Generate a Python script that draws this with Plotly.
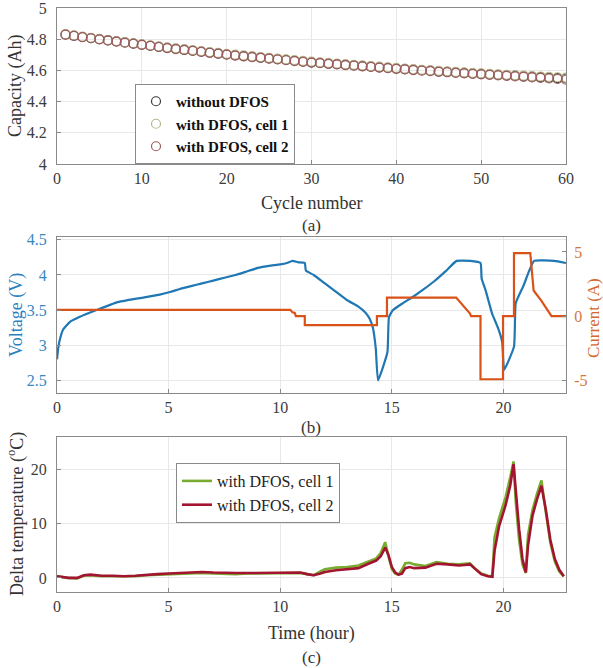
import plotly.graph_objects as go

# ---------------- data ----------------
cycles = list(range(1, 61))
cap_without = [4.830, 4.822, 4.814, 4.807, 4.800, 4.793, 4.786, 4.779, 4.772, 4.765,
               4.758, 4.751, 4.745, 4.738, 4.732, 4.726, 4.720, 4.714, 4.708, 4.702,
               4.697, 4.692, 4.687, 4.682, 4.677, 4.672, 4.667, 4.662, 4.657, 4.652,
               4.648, 4.644, 4.640, 4.636, 4.632, 4.628, 4.624, 4.620, 4.616, 4.612,
               4.608, 4.605, 4.601, 4.598, 4.594, 4.591, 4.587, 4.584, 4.581, 4.578,
               4.575, 4.572, 4.569, 4.566, 4.563, 4.560, 4.557, 4.554, 4.551, 4.548]
cap_cell1 = [4.832, 4.824, 4.816, 4.809, 4.802, 4.795, 4.788, 4.781, 4.774, 4.767,
             4.760, 4.754, 4.748, 4.742, 4.736, 4.730, 4.724, 4.718, 4.712, 4.706,
             4.701, 4.696, 4.691, 4.686, 4.681, 4.676, 4.671, 4.666, 4.661, 4.656,
             4.652, 4.648, 4.644, 4.640, 4.636, 4.632, 4.628, 4.624, 4.620, 4.616,
             4.612, 4.608, 4.604, 4.601, 4.597, 4.594, 4.590, 4.587, 4.584, 4.581,
             4.578, 4.575, 4.572, 4.569, 4.566, 4.563, 4.561, 4.558, 4.556, 4.554]
cap_cell2 = [4.829, 4.821, 4.813, 4.806, 4.799, 4.792, 4.785, 4.778, 4.771, 4.764,
             4.757, 4.750, 4.743, 4.737, 4.731, 4.725, 4.719, 4.713, 4.707, 4.701,
             4.695, 4.690, 4.685, 4.680, 4.675, 4.670, 4.665, 4.660, 4.655, 4.650,
             4.646, 4.642, 4.638, 4.634, 4.630, 4.626, 4.622, 4.618, 4.614, 4.610,
             4.606, 4.602, 4.598, 4.595, 4.591, 4.588, 4.584, 4.581, 4.577, 4.574,
             4.571, 4.568, 4.565, 4.561, 4.558, 4.555, 4.552, 4.548, 4.545, 4.540]

t_voltage = [0, 0.05, 0.12, 0.27, 0.57, 1.0, 1.77, 2.68, 3.7, 4.6, 5.1, 5.5, 6.0, 6.5,
             7.0, 7.5, 8.0, 8.5, 9.0, 9.5, 10.0, 10.3, 10.55, 10.8, 11.1, 11.15, 11.5,
             12.0, 12.5, 13.0, 13.5, 13.8, 14.0, 14.15, 14.28, 14.38, 14.8, 14.87,
             15.05, 15.5, 15.95, 16.4, 16.9, 17.4, 17.9, 18.5, 18.97, 19.02, 19.2,
             19.49, 19.75, 19.94, 20.03, 20.47, 20.55, 20.9, 21.14, 21.37, 22.27, 22.8]
voltage = [2.80, 2.95, 3.07, 3.22, 3.33, 3.40, 3.50, 3.61, 3.67, 3.72, 3.76, 3.80, 3.84,
           3.88, 3.92, 3.96, 4.00, 4.05, 4.10, 4.13, 4.15, 4.17, 4.20, 4.18, 4.17, 4.06,
           4.00, 3.88, 3.76, 3.64, 3.55, 3.47, 3.38, 3.25, 2.95, 2.50, 2.90, 3.40,
           3.50, 3.60, 3.69, 3.79, 3.91, 4.05, 4.20, 4.20, 4.17, 3.95, 3.78,
           3.45, 3.25, 3.05, 2.65, 2.98, 3.60, 3.85, 4.05, 4.20, 4.20, 4.17]

t_current = [0, 10.45, 10.55, 10.65, 10.7, 11.1, 11.1, 14.33, 14.33, 14.78, 14.78, 17.88,
             18.5, 18.55, 18.97, 18.97, 19.98, 19.98, 20.47, 20.47, 21.2, 21.35, 21.7,
             22.15, 22.8]
current = [0.5, 0.5, 0.3, 0.25, 0, 0, -0.7, -0.7, 0, 0, 1.45, 1.45,
           0.2, 0, 0, -4.9, -4.9, 0, 0, 4.9, 4.9, 2.0, 1.2,
           0, 0]

t_temp = [0, 0.5, 0.9, 1.2, 1.5, 2.0, 2.5, 3.0, 3.5, 4.0, 4.5, 5.0, 5.5, 6.0, 6.5, 7.0,
          7.5, 8.0, 8.5, 9.0, 9.5, 10.0, 10.5, 10.9, 11.2, 11.5, 11.8, 12.0, 12.5, 13.0,
          13.5, 14.0, 14.3, 14.5, 14.7, 14.85, 15.0, 15.15, 15.3, 15.45, 15.6, 15.8,
          16.0, 16.5, 17.0, 17.5, 18.0, 18.5, 18.7, 19.0, 19.3, 19.5, 19.6, 19.8, 20.1,
          20.3, 20.45, 20.55, 20.7, 20.85, 21.0, 21.1, 21.3, 21.5, 21.7, 21.9, 22.1,
          22.3, 22.5, 22.7]
temp_cell1 = [0.3, 0.0, -0.1, 0.4, 0.5, 0.3, 0.3, 0.3, 0.3, 0.5, 0.6, 0.7, 0.8, 0.9, 0.9,
              0.8, 0.7, 0.7, 0.8, 0.8, 0.8, 0.9, 0.9, 0.9, 0.7, 0.5, 1.2, 1.6, 1.9, 2.0,
              2.3, 3.2, 3.6, 4.6, 6.6, 4.0, 1.6, 0.8, 0.6, 1.5, 2.7, 2.8,
              2.5, 2.2, 2.9, 2.6, 2.5, 2.7, 1.8, 0.8, 0.4, 0.3, 7.5, 11.0, 15.0,
              18.5, 21.5, 14.0, 7.0, 2.5, 0.9, 8.0, 12.5, 15.5, 18.0, 12.0, 6.5,
              3.0, 1.2, 0.3]
temp_cell2 = [0.3, 0.0, 0.0, 0.5, 0.6, 0.4, 0.4, 0.3, 0.4, 0.6, 0.7, 0.8, 0.9, 1.1, 1.1,
              1.0, 0.9, 0.9, 0.9, 0.9, 1.0, 1.0, 1.0, 1.0, 0.7, 0.5, 0.8, 1.1, 1.4, 1.6,
              1.8, 2.7, 3.2, 4.0, 5.6, 4.2, 2.0, 1.0, 0.6, 0.8, 1.8, 2.0,
              1.8, 1.9, 2.6, 2.5, 2.3, 2.5, 1.8, 0.7, 0.3, 0.2, 5.0, 9.5, 13.5,
              17.0, 21.0, 16.0, 9.0, 3.5, 1.0, 6.0, 11.5, 14.5, 17.0, 12.5, 7.0,
              3.5, 1.5, 0.3]

# ---------------- styling ----------------
FONT = "Liberation Serif, Times New Roman, serif"
TICK_COL = "#3c3c3c"
AX_COL = "#8a8a8a"
GRID_COL = "#e8e8e8"
BLUE = "#1f77b4"
ORANGE = "#d95319"

W, H = 603, 668
def px_x(p):
    return p / W
def px_y(p):
    return 1 - p / H

XL, XR = px_x(57), px_x(566)

fig = go.Figure()

# panel (a)
fig.add_trace(go.Scatter(x=cycles, y=cap_without, mode="markers", name="without DFOS",
                         marker=dict(symbol="circle-open", size=9, color="#3a3a3a",
                                     line=dict(width=1.2, color="#3a3a3a")),
                         xaxis="x", yaxis="y", legend="legend"))
fig.add_trace(go.Scatter(x=cycles, y=cap_cell1, mode="markers", name="with DFOS, cell 1",
                         marker=dict(symbol="circle-open", size=9, color="#b8b88a",
                                     line=dict(width=1.2, color="#b8b88a")),
                         xaxis="x", yaxis="y", legend="legend"))
fig.add_trace(go.Scatter(x=cycles, y=cap_cell2, mode="markers", name="with DFOS, cell 2",
                         marker=dict(symbol="circle-open", size=9, color="#9e5a5e",
                                     line=dict(width=1.2, color="#9e5a5e")),
                         xaxis="x", yaxis="y", legend="legend"))

# panel (b)
fig.add_trace(go.Scatter(x=t_voltage, y=voltage, mode="lines", showlegend=False,
                         line=dict(color=BLUE, width=2.2, shape="spline", smoothing=0.4),
                         xaxis="x2", yaxis="y2"))
fig.add_trace(go.Scatter(x=t_current, y=current, mode="lines", showlegend=False,
                         line=dict(color=ORANGE, width=2.2),
                         xaxis="x2", yaxis="y3"))

# panel (c)
fig.add_trace(go.Scatter(x=t_temp, y=temp_cell1, mode="lines", name="with DFOS, cell 1",
                         line=dict(color="#77ac30", width=2.6),
                         xaxis="x3", yaxis="y4", legend="legend2"))
fig.add_trace(go.Scatter(x=t_temp, y=temp_cell2, mode="lines", name="with DFOS, cell 2",
                         line=dict(color="#a2142f", width=2.6),
                         xaxis="x3", yaxis="y4", legend="legend2"))

common = dict(showline=True, linecolor=AX_COL, linewidth=1, mirror=True,
              ticks="inside", ticklen=4, tickcolor=AX_COL, automargin=False,
              ticklabeloverflow="allow",
              showgrid=True, gridcolor=GRID_COL, zeroline=False,
              tickfont=dict(family=FONT, size=16, color=TICK_COL))

fig.update_layout(
    template="none",
    width=W, height=H, margin=dict(l=0, r=0, t=0, b=0, autoexpand=False),
    paper_bgcolor="white", plot_bgcolor="white",
    font=dict(family=FONT, color=TICK_COL),
    xaxis=dict(domain=[XL, XR], anchor="y", range=[0, 60], tickvals=[0, 10, 20, 30, 40, 50, 60], **common),
    yaxis=dict(domain=[px_y(164), px_y(8)], anchor="x", range=[4, 5],
               tickvals=[4, 4.2, 4.4, 4.6, 4.8, 5], ticktext=["4", "4.2", "4.4", "4.6", "4.8", "5"],
               ticklabelstandoff=6, **common),
    xaxis2=dict(domain=[XL, XR], anchor="y2", range=[0, 22.8], tickvals=[0, 5, 10, 15, 20], **common),
    yaxis2=dict(domain=[px_y(393), px_y(237)], anchor="x2", range=[2.32, 4.54],
                tickvals=[2.5, 3, 3.5, 4, 4.5], ticktext=["2.5", "3", "3.5", "4", "4.5"],
                ticklabelstandoff=6,
                **{**common, "tickfont": dict(family=FONT, size=16, color="#3a87c0")}),
    yaxis3=dict(overlaying="y2", side="right", anchor="x2", range=[-5.97, 6.16],
                tickvals=[-5, 0, 5], ticktext=["-5", "0", "5"], showline=True,
                linecolor=AX_COL, ticks="inside", ticklen=4, tickcolor=AX_COL,
                showgrid=False, zeroline=False, ticklabelstandoff=4, automargin=False,
                ticklabeloverflow="allow",
                tickfont=dict(family=FONT, size=16, color="#d2773f")),
    xaxis3=dict(domain=[XL, XR], anchor="y4", range=[0, 22.8], tickvals=[0, 5, 10, 15, 20], **common),
    yaxis4=dict(domain=[px_y(592), px_y(437)], anchor="x3", range=[-2.6, 26],
                tickvals=[0, 10, 20], ticklabelstandoff=6, **common),
    legend=dict(x=px_x(135), y=px_y(84), xanchor="left", yanchor="top",
                bgcolor="white", bordercolor="#8a8a8a", borderwidth=1,
                font=dict(family=FONT, size=15, color="#111111", weight="bold"),
                itemwidth=30, tracegroupgap=0),
    legend2=dict(x=px_x(176), y=px_y(463), xanchor="left", yanchor="top",
                 bgcolor="white", bordercolor="#8a8a8a", borderwidth=1,
                 font=dict(family=FONT, size=16, color="#222222"),
                 itemwidth=30, tracegroupgap=0),
)

ann_font = dict(family=FONT, size=18, color="#333333")
annotations = [
    dict(text="Capacity (Ah)", x=px_x(16), y=px_y(86), textangle=-90, font=ann_font),
    dict(text="Cycle number", x=px_x(311), y=px_y(203), font=ann_font),
    dict(text="(a)", x=px_x(311), y=px_y(226), font=dict(family=FONT, size=17, color="#333333")),
    dict(text="Voltage (V)", x=px_x(16), y=px_y(315), textangle=-90,
         font=dict(family=FONT, size=18, color="#2a7fbf")),
    dict(text="Current (A)", x=px_x(593), y=px_y(318), textangle=-90,
         font=dict(family=FONT, size=17, color="#d2682c")),
    dict(text="(b)", x=px_x(311), y=px_y(427), font=dict(family=FONT, size=17, color="#333333")),
    dict(text="Delta temperature (<sup>o</sup>C)", x=px_x(16), y=px_y(514), textangle=-90, font=ann_font),
    dict(text="Time (hour)", x=px_x(311), y=px_y(633), font=ann_font),
    dict(text="(c)", x=px_x(311), y=px_y(657), font=dict(family=FONT, size=17, color="#333333")),
]
for a in annotations:
    a.update(xref="paper", yref="paper", showarrow=False, xanchor="center", yanchor="middle")
fig.update_layout(annotations=annotations)

fig.write_html("out.html",
               config={"displayModeBar": False},
               post_script="document.body.style.margin='0px';"
                           "document.documentElement.style.overflow='hidden';")
